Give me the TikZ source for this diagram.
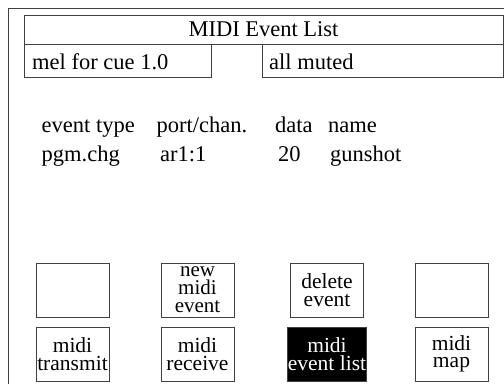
\documentclass[tikz,border=0pt]{standalone}
\usepackage{fontspec}
\setmainfont{Liberation Serif}
\usetikzlibrary{positioning}

\tikzset{
  frame/.style={draw=black!75, line width=1pt},
  field/.style={frame, rectangle, inner sep=0pt},
  lbl/.style={inner sep=0pt, font=\fontsize{22.5}{22.5}\selectfont},
  btn/.style={frame, rectangle, minimum width=73pt, minimum height=54pt, inner sep=0pt,
    align=center, font=\fontsize{21.5}{17.5}\selectfont},
  btnon/.style={btn, fill=black, text=white}
}

\begin{document}
\begin{tikzpicture}[x=1pt, y=-1pt]
  %%%%% START %%%%%
  \useasboundingbox (0,0) rectangle (504,384);

  % outer frame, cut by the page edge
  \draw[frame] (8.5,384) -- (8.5,8.5) -- (504,8.5);

  % header fields
  \node[field, minimum width=479pt, minimum height=29pt] (head) at (263.5,29.5) {};
  \node[field, minimum width=187pt, minimum height=33pt] (cue) at (117.5,60.5) {};
  \node[field, minimum width=241pt, minimum height=33pt] (mute) at (382.5,60.5) {};

  \node[lbl, anchor=base] (headtxt) at (263.5,36) {MIDI Event List};
  \node[lbl, anchor=base west] (cuetxt) at (32,69) {mel for cue 1.0};
  \node[lbl, anchor=base west] (mutetxt) at (269,69) {all muted};

  % event table
  \node[lbl, anchor=base west] (colt) at (41.5,132) {event type};
  \node[lbl, anchor=base west] (colp) at (156.5,132) {port/chan.};
  \node[lbl, anchor=base west] (cold) at (275,132) {data};
  \node[lbl, anchor=base west] (coln) at (328,132) {name};

  \node[lbl, anchor=base west] (evt) at (41.5,161) {pgm.chg};
  \node[lbl, anchor=base west] (evp) at (160,161) {ar1:1};
  \node[lbl, anchor=base west] (evd) at (278,161) {20};
  \node[lbl, anchor=base west] (evn) at (330,161) {gunshot};

  % buttons
  \node[btn] (b1) at (72.5,290) {};
  \node[btn, font=\fontsize{21}{18}\selectfont] (b2) at (197.5,290) {new\\midi\\event};
  \node[btn] (b3) at (327,290) {delete\\event};
  \node[btn] (b4) at (451.5,290) {};

  \node[btn] (b5) at (72.5,354) {midi\\transmit};
  \node[btn] (b6) at (197.5,354) {midi\\receive};
  \node[btnon] (b7) at (327,354) {midi\\event list};
  \node[btn] (b8) at (451.5,354) {midi\\map};
  %%%%% END %%%%%
\end{tikzpicture}
\end{document}
